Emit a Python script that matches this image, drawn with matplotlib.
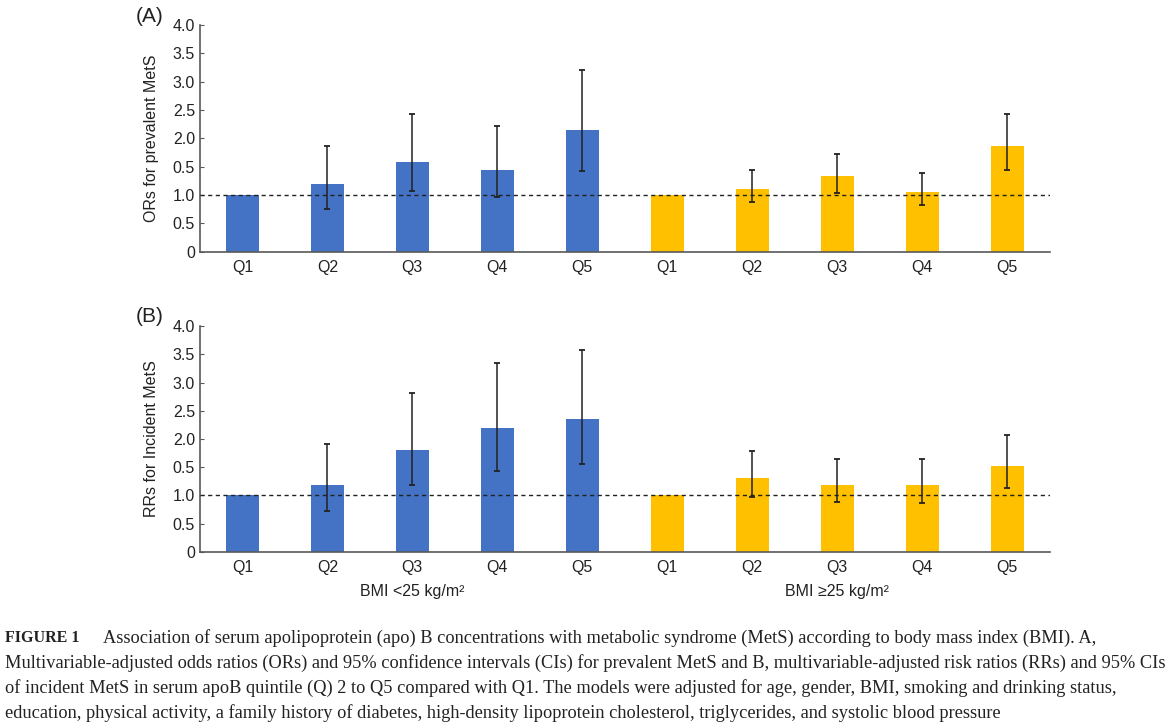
import matplotlib.pyplot as plt
import numpy as np

plt.rcParams['font.family'] = ['Liberation Sans', 'DejaVu Sans']

quintiles = ["Q1", "Q2", "Q3", "Q4", "Q5", "Q1", "Q2", "Q3", "Q4", "Q5"]
groups = ["BMI <25 kg/m\u00b2", "BMI \u226525 kg/m\u00b2"]
ytick_labels = ["0", "0.5", "1.0", "0.5", "2.0", "2.5", "3.0", "3.5", "4.0"]

# (A) odds ratios for prevalent MetS
or_est = [1.0, 1.19, 1.59, 1.45, 2.14, 1.0, 1.11, 1.33, 1.06, 1.86]
or_low = [np.nan, 0.76, 1.07, 0.97, 1.43, np.nan, 0.87, 1.04, 0.82, 1.44]
or_high = [np.nan, 1.87, 2.42, 2.21, 3.20, np.nan, 1.44, 1.73, 1.39, 2.42]

# (B) risk ratios for incident MetS
rr_est = [1.0, 1.19, 1.81, 2.19, 2.36, 1.0, 1.31, 1.19, 1.19, 1.53]
rr_low = [np.nan, 0.73, 1.18, 1.44, 1.56, np.nan, 0.98, 0.88, 0.86, 1.13]
rr_high = [np.nan, 1.91, 2.82, 3.35, 3.58, np.nan, 1.79, 1.65, 1.65, 2.07]

blue = "#4472C4"
yellow = "#FFC000"
colors = [blue] * 5 + [yellow] * 5
txt = "#222222"

fig = plt.figure(figsize=(11.69, 7.28), dpi=100)
ax_a = fig.add_axes([0.171, 0.654, 0.727, 0.312])
ax_b = fig.add_axes([0.171, 0.242, 0.727, 0.310])

x = np.arange(len(quintiles))


def draw_panel(ax, est, low, high, ylabel):
    est = np.array(est)
    err = np.array([est - np.array(low), np.array(high) - est])
    ax.bar(x, est, width=0.39, color=colors, zorder=2)
    mask = ~np.isnan(np.array(low))
    ax.errorbar(x[mask], est[mask], yerr=err[:, mask], fmt="none",
                ecolor=txt, elinewidth=1.1, capsize=2.5, capthick=1.3, zorder=3)
    ax.axhline(1.0, color=txt, linestyle=(0, (3, 2.5)), linewidth=1.0, zorder=4)
    ax.set_xlim(-0.5, 9.5)
    ax.set_ylim(0, 4)
    ax.set_yticks(np.arange(0, 4.01, 0.5))
    ax.set_yticklabels(ytick_labels)
    ax.set_xticks(x)
    ax.set_xticklabels(quintiles)
    ax.tick_params(axis="x", length=0, pad=6, labelsize=11.5, colors=txt)
    ax.tick_params(axis="y", direction="in", length=3, pad=3.5, labelsize=11.5,
                   colors=txt, color="#595959")
    for s in ["top", "right"]:
        ax.spines[s].set_visible(False)
    for s in ["left", "bottom"]:
        ax.spines[s].set_color("#595959")
        ax.spines[s].set_linewidth(1.2)
    ax.set_ylabel(ylabel, fontsize=11.5, color=txt, labelpad=10)


draw_panel(ax_a, or_est, or_low, or_high, "ORs for prevalent MetS")
draw_panel(ax_b, rr_est, rr_low, rr_high, "RRs for Incident MetS")

fig.text(150 / 1169, 1 - 16 / 728, "(A)", fontsize=15, ha="center", va="center", color=txt)
fig.text(150 / 1169, 1 - 317 / 728, "(B)", fontsize=15, ha="center", va="center", color=txt)

ax_b.text(2, -0.7, groups[0], ha="center", va="center", fontsize=11.5, color=txt)
ax_b.text(7, -0.7, groups[1], ha="center", va="center", fontsize=11.5, color=txt)

caption = [
    "Association of serum apolipoprotein (apo) B concentrations with metabolic syndrome (MetS) according to body mass index (BMI). A,",
    "Multivariable-adjusted odds ratios (ORs) and 95% confidence intervals (CIs) for prevalent MetS and B, multivariable-adjusted risk ratios (RRs) and 95% CIs",
    "of incident MetS in serum apoB quintile (Q) 2 to Q5 compared with Q1. The models were adjusted for age, gender, BMI, smoking and drinking status,",
    "education, physical activity, a family history of diabetes, high-density lipoprotein cholesterol, triglycerides, and systolic blood pressure",
]
cap_y = [638, 663, 688, 713]
cap_size = 13.2
fig.text(5 / 1169, 1 - cap_y[0] / 728, "FIGURE 1", family="Liberation Serif",
         fontweight="bold", fontsize=11.5, va="center", color=txt)
fig.text(103 / 1169, 1 - cap_y[0] / 728, caption[0], family="Liberation Serif",
         fontsize=cap_size, va="center", color=txt)
for line, yy in zip(caption[1:], cap_y[1:]):
    fig.text(5 / 1169, 1 - yy / 728, line, family="Liberation Serif",
             fontsize=cap_size, va="center", color=txt)

fig.savefig("out.png", dpi=100)
